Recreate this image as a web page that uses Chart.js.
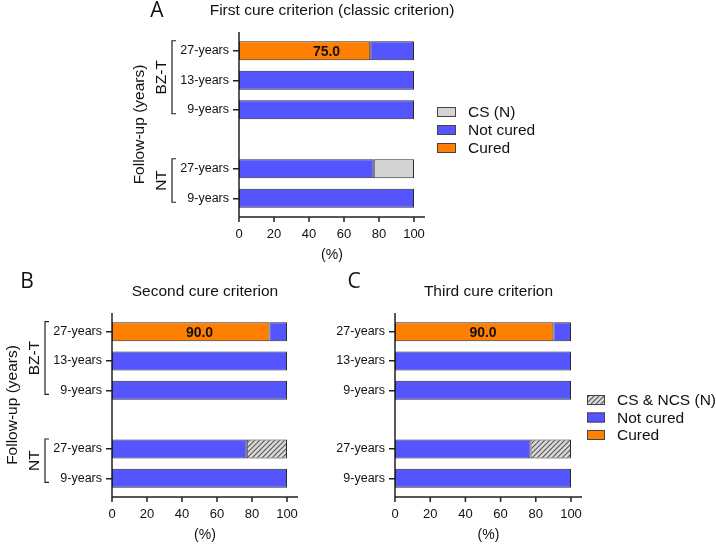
<!DOCTYPE html>
<html>
<head>
<meta charset="UTF-8">
<title>Cure criteria by follow-up</title>
<script src="https://cdn.jsdelivr.net/npm/chart.js@4.4.0/dist/chart.umd.min.js"></script>
<style>
  body { margin: 0; background: #fff; }
  #wrap { position: relative; width: 716px; height: 545px; }
  canvas { position: absolute; left: 0; top: 0; }
</style>
</head>
<body>
<div id="wrap">
  <canvas id="chartA" width="716" height="545"></canvas>
  <canvas id="chartB" width="716" height="545"></canvas>
  <canvas id="chartC" width="716" height="545"></canvas>
</div>
<script>
// categories (the empty one is the gap between the two groups)
const followUp = ['27-years', '13-years', '9-years', '', '27-years', '9-years'];
const groups = [{ name: 'BZ-T', first: 0, last: 2 }, { name: 'NT', first: 4, last: 5 }];

// A - first cure criterion (classic)
const curedA    = [75, null, null, null, null, null];
const notCuredA = [25, 100, 100, null, 77, 100];
const csA       = [null, null, null, null, 23, null];

// B - second cure criterion
const curedB    = [90, null, null, null, null, null];
const notCuredB = [10, 100, 100, null, 77, 100];
const csNcsB    = [null, null, null, null, 23, null];

// C - third cure criterion
const curedC    = [90, null, null, null, null, null];
const notCuredC = [10, 100, 100, null, 77, 100];
const csNcsC    = [null, null, null, null, 23, null];

const ORANGE = '#FF8000', BLUE = '#5555FF', GREY = '#D3D3D3';
const FONT = '"Liberation Sans", Arial, sans-serif';
const X_SCALE_H = 34;
Chart.defaults.font.family = FONT;

function hatch() {
  const c = document.createElement('canvas');
  c.width = 5; c.height = 5;
  const g = c.getContext('2d');
  g.fillStyle = '#dadada';
  g.fillRect(0, 0, 5, 5);
  g.strokeStyle = '#555';
  g.lineWidth = 1.1;
  g.beginPath();
  g.moveTo(-1, 6); g.lineTo(6, -1);
  g.moveTo(-1, 1); g.lineTo(1, -1);
  g.moveTo(4, 6); g.lineTo(6, 4);
  g.stroke();
  return g.createPattern(c, 'repeat');
}
const HATCH = hatch();

const decoPlugin = {
  id: 'deco',
  afterDraw(chart, args, o) {
    const ctx = chart.ctx, a = chart.chartArea;
    const xs = chart.scales.x, ys = chart.scales.y;
    const axisEnd = a.right + 11;
    const mid = (a.left + axisEnd) / 2;
    ctx.save();

    // axes (offset like the original)
    ctx.strokeStyle = '#222';
    ctx.lineWidth = 1.5;
    ctx.beginPath();
    ctx.moveTo(a.left, a.top - 4);
    ctx.lineTo(a.left, a.bottom + 4);
    ctx.lineTo(axisEnd, a.bottom + 4);
    xs.ticks.forEach(t => {
      const x = xs.getPixelForValue(t.value);
      ctx.moveTo(x, a.bottom + 4);
      ctx.lineTo(x, a.bottom + 9);
    });
    ctx.stroke();

    ctx.fillStyle = '#111';
    ctx.textAlign = 'center';
    ctx.textBaseline = 'middle';
    ctx.font = '21px "Open Sans", sans-serif';
    ctx.fillText(o.letter, o.letterX, o.letterY);
    ctx.font = '15.5px ' + FONT;
    ctx.fillText(o.title, mid, a.top - 25);
    ctx.font = '14px ' + FONT;
    ctx.fillText('(%)', mid, a.bottom + 42);

    // value label on the cured bars
    const ds = chart.data.datasets;
    const meta = chart.getDatasetMeta(0);
    ds[0].data.forEach((v, i) => {
      if (!v) return;
      let total = 0;
      ds.forEach(d => { total += d.data[i] || 0; });
      ctx.font = 'bold 14px ' + FONT;
      ctx.fillText(v.toFixed(1), xs.getPixelForValue(total / 2), meta.data[i].y + 1);
    });

    // group brackets and y title
    if (o.groups) {
      ctx.lineWidth = 1.2;
      ctx.font = '15.5px ' + FONT;
      const bx = a.left - 67;
      o.groups.forEach(gr => {
        const y1 = ys.getPixelForValue(gr.first) - 10;
        const y2 = ys.getPixelForValue(gr.last) + 4;
        ctx.beginPath();
        ctx.moveTo(bx + 4, y1); ctx.lineTo(bx, y1); ctx.lineTo(bx, y2); ctx.lineTo(bx + 4, y2);
        ctx.stroke();
        ctx.save();
        ctx.translate(a.left - 77, (y1 + y2) / 2);
        ctx.rotate(-Math.PI / 2);
        ctx.fillText(gr.name, 0, 0);
        ctx.restore();
      });
      ctx.save();
      ctx.translate(a.left - 99, (a.top + a.bottom) / 2);
      ctx.rotate(-Math.PI / 2);
      ctx.fillText('Follow-up (years)', 0, 0);
      ctx.restore();
    }

    // legend, last series on top
    if (o.legend) {
      const L = o.legend;
      ctx.textAlign = 'left';
      ctx.font = '15.5px ' + FONT;
      ctx.lineWidth = 1;
      ds.slice().reverse().forEach((d, k) => {
        const y = L.y + k * L.step;
        ctx.fillStyle = d.backgroundColor;
        ctx.fillRect(L.x, y - 5, L.w, 10);
        ctx.strokeStyle = '#444';
        ctx.strokeRect(L.x + 0.5, y - 4.5, L.w - 1, 9);
        ctx.fillStyle = '#111';
        ctx.fillText(d.label, L.x + L.w + 12, y + 1);
      });
    }
    ctx.restore();
  }
};

function panel(id, sets, deco) {
  const area = deco.area;
  return new Chart(document.getElementById(id), {
    type: 'bar',
    data: {
      labels: followUp,
      datasets: sets.map(s => ({
        label: s.label, data: s.data, backgroundColor: s.color,
        borderColor: '#2a2a2a', borderWidth: 1, borderSkipped: false,
        barPercentage: 0.65, categoryPercentage: 1
      }))
    },
    options: {
      indexAxis: 'y',
      responsive: false,
      animation: false,
      devicePixelRatio: 1,
      layout: { padding: { left: 0, top: area.top, right: 716 - area.right, bottom: 545 - area.bottom - X_SCALE_H } },
      scales: {
        x: {
          stacked: true, min: 0, max: 100,
          ticks: { stepSize: 20, padding: 6, color: '#111', font: { size: 13 } },
          grid: { display: false, tickLength: 8 },
          border: { display: false },
          afterFit: s => { s.height = X_SCALE_H; }
        },
        y: {
          stacked: true,
          ticks: { padding: 4, color: '#111', font: { size: 12.5 } },
          grid: {
            drawOnChartArea: false, offset: false, tickLength: 6, lineWidth: 1.5,
            color: c => (c.tick && c.tick.label ? '#222' : 'rgba(0,0,0,0)'),
            tickColor: c => (c.tick && c.tick.label ? '#222' : 'rgba(0,0,0,0)')
          },
          border: { display: false },
          afterFit: s => { s.width = area.left; }
        }
      },
      plugins: { legend: { display: false }, tooltip: { enabled: false }, deco: deco }
    },
    plugins: [decoPlugin]
  });
}

panel('chartA', [
  { label: 'Cured', data: curedA, color: ORANGE },
  { label: 'Not cured', data: notCuredA, color: BLUE },
  { label: 'CS (N)', data: csA, color: GREY }
], {
  area: { left: 239, right: 414, top: 36, bottom: 213 },
  letter: 'A', letterX: 157, letterY: 11,
  title: 'First cure criterion (classic criterion)',
  groups: groups,
  legend: { x: 437, y: 112, step: 18, w: 19 }
});

panel('chartB', [
  { label: 'Cured', data: curedB, color: ORANGE },
  { label: 'Not cured', data: notCuredB, color: BLUE },
  { label: 'CS & NCS (N)', data: csNcsB, color: HATCH }
], {
  area: { left: 112, right: 287, top: 317, bottom: 493 },
  letter: 'B', letterX: 27, letterY: 282,
  title: 'Second cure criterion',
  groups: groups
});

panel('chartC', [
  { label: 'Cured', data: curedC, color: ORANGE },
  { label: 'Not cured', data: notCuredC, color: BLUE },
  { label: 'CS & NCS (N)', data: csNcsC, color: HATCH }
], {
  area: { left: 395, right: 571, top: 317, bottom: 493 },
  letter: 'C', letterX: 354, letterY: 282,
  title: 'Third cure criterion',
  legend: { x: 587, y: 400, step: 17.5, w: 18 }
});
</script>
</body>
</html>
